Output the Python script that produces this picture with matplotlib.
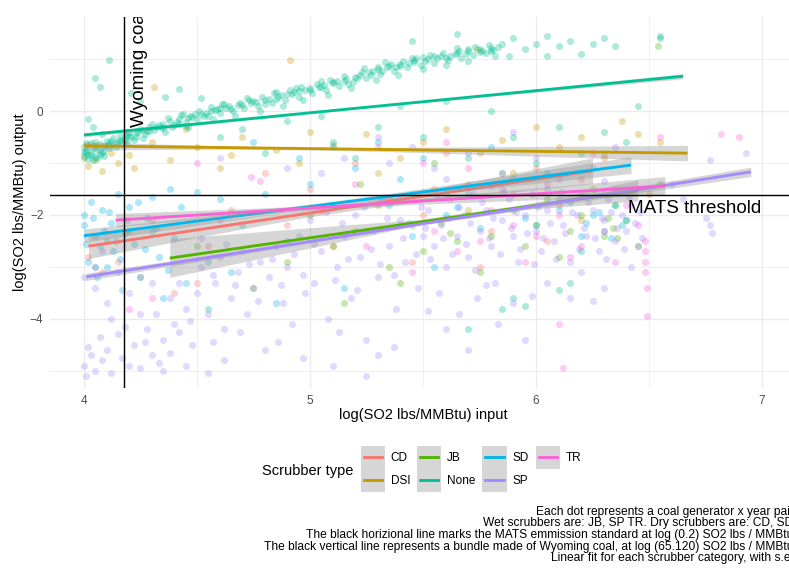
import numpy as np
import matplotlib
matplotlib.use("Agg")
import matplotlib.pyplot as plt
from matplotlib.patches import Rectangle
from matplotlib.lines import Line2D
from matplotlib.ticker import MultipleLocator

plt.rcParams['font.family'] = ['Liberation Sans', 'DejaVu Sans']

# ---------------- data ----------------
categories = ["CD", "DSI", "JB", "None", "SD", "SP", "TR"]
colors = ["#F8766D", "#C49A00", "#53B400", "#00C094", "#00B6EB", "#A58AFF", "#FB61D7"]

# scatter points (log input, log output)
none_pts = [
    (4.00, -0.70), (4.00, -0.86), (4.01, -0.78), (4.02, -0.92), (4.02, -0.66), (4.03, -0.80), (4.04, -0.72),
    (4.05, -0.88), (4.06, -0.74), (4.07, -0.64), (4.08, -0.80), (4.09, -0.68), (4.10, -0.58), (4.12, -0.66),
    (4.13, -0.52), (4.15, -0.60), (4.16, -0.48), (4.18, -0.55), (4.20, -0.40), (4.21, -0.50), (4.23, -0.42),
    (4.25, -0.34), (4.27, -0.44), (4.29, -0.30), (4.31, -0.36), (4.33, -0.26), (4.35, -0.32), (4.38, -0.20),
    (4.40, -0.27), (4.42, -0.16), (4.45, -0.22), (4.47, -0.10), (4.50, -0.16), (4.52, -0.05), (4.55, -0.10),
    (4.58, 0.02), (4.60, -0.04), (4.63, 0.06), (4.66, 0.01), (4.68, 0.12), (4.71, 0.06), (4.74, 0.15),
    (4.77, 0.10), (4.80, 0.22), (4.83, 0.16), (4.86, 0.28), (4.89, 0.22), (4.92, 0.33), (4.95, 0.27),
    (4.98, 0.40), (5.01, 0.34), (5.04, 0.46), (5.07, 0.41), (5.10, 0.54), (5.13, 0.48), (5.16, 0.62),
    (5.19, 0.56), (5.22, 0.70), (5.25, 0.64), (5.28, 0.78), (5.31, 0.72), (5.34, 0.84), (5.37, 0.78),
    (5.40, 0.90), (5.43, 0.84), (5.46, 0.95), (5.49, 0.88), (5.52, 1.00), (5.55, 0.93), (5.58, 1.05),
    (5.61, 0.98), (5.64, 1.10), (5.67, 1.03), (5.70, 1.15), (5.72, 1.08), (5.75, 1.20), (5.78, 1.12),
    (5.80, 1.22), (4.03, -0.62), (4.06, -0.90), (4.11, -0.72), (4.19, -0.62), (4.26, -0.52), (4.36, -0.40),
    (4.46, -0.30), (4.57, -0.16), (4.67, -0.10), (4.78, 0.00), (4.88, 0.10), (4.97, 0.22), (5.08, 0.30),
    (5.18, 0.44), (5.29, 0.60), (5.39, 0.70), (5.50, 0.80), (5.60, 0.88), (5.70, 0.96), (4.62, 0.14),
    (4.85, 0.36), (5.05, 0.58), (5.24, 0.82), (5.45, 1.02), (5.65, 1.22), (5.82, 1.06), (5.33, 0.95),
    (4.94, 0.45), (4.72, 0.25), (4.44, -0.06),
    (4.01, -0.74), (4.03, -0.84), (4.05, -0.68), (4.07, -0.76), (4.09, -0.86), (4.11, -0.62), (4.14, -0.70),
    (4.17, -0.58), (4.19, -0.46), (4.22, -0.56), (4.24, -0.40), (4.28, -0.38), (4.30, -0.24), (4.34, -0.30),
    (4.37, -0.14), (4.41, -0.22), (4.43, -0.08), (4.48, -0.12), (4.51, 0.00), (4.54, -0.04), (4.56, 0.08),
    (4.59, 0.04), (4.61, 0.14), (4.64, 0.10), (4.69, 0.16), (4.73, 0.22), (4.76, 0.18), (4.79, 0.28),
    (4.82, 0.24), (4.84, 0.34), (4.87, 0.30), (4.91, 0.40), (4.93, 0.36), (4.96, 0.46), (5.00, 0.44),
    (5.03, 0.52), (5.06, 0.50), (5.09, 0.60), (5.12, 0.58), (5.15, 0.68), (5.17, 0.52), (5.21, 0.64),
    (5.23, 0.76), (5.27, 0.70), (5.30, 0.84), (5.32, 0.78), (5.36, 0.90), (5.38, 0.84), (5.41, 0.96),
    (5.44, 0.92), (5.47, 1.02), (5.51, 0.96), (5.53, 1.08), (5.56, 1.02), (5.59, 1.12), (5.62, 1.06),
    (5.66, 1.16), (5.69, 1.10), (5.73, 1.24), (5.76, 1.16), (5.79, 1.28), (5.81, 1.18),
    (4.00, -0.78), (4.01, -0.62), (4.02, -0.84), (4.04, -0.95), (4.05, -0.60), (4.07, -0.84), (4.09, -0.76),
    (4.10, -0.66), (4.12, -0.58), (4.14, -0.62), (4.16, -0.56), (4.18, -0.48), (4.20, -0.48), (4.23, -0.50),
    (4.26, -0.36), (4.29, -0.38), (4.32, -0.30), (4.35, -0.24), (4.39, -0.30), (4.42, -0.24), (4.46, -0.14),
    (4.49, -0.06), (4.53, -0.10), (4.56, 0.00), (4.60, 0.06), (4.65, 0.04), (4.70, 0.12), (4.75, 0.20),
    (4.80, 0.14), (4.85, 0.24), (4.90, 0.32), (4.95, 0.38), (5.00, 0.40), (5.05, 0.46), (5.10, 0.56),
    (5.15, 0.58), (5.20, 0.66), (5.26, 0.76), (5.30, 0.80), (5.35, 0.86), (5.40, 0.86), (5.46, 0.98),
    (5.50, 1.04), (5.55, 1.06), (5.60, 1.02), (5.65, 1.12), (5.70, 1.20), (5.75, 1.14), (5.80, 1.16),
    (5.83, 1.24),
    (4.05, 0.63), (4.11, 0.98), (4.07, 0.47), (4.21, 0.35), (4.36, 0.28), (4.52, 0.26), (4.02, -0.15),
    (4.04, -0.30), (4.08, -0.45), (4.25, 0.20), (4.42, 0.42), (4.45, -0.28),
    (5.90, 1.40), (5.95, 1.20), (6.00, 1.30), (6.05, 1.45), (6.10, 1.25), (6.15, 1.35), (6.20, 1.10),
    (6.25, 1.30), (6.30, 1.40), (6.35, 1.25), (6.05, 1.05), (5.85, 1.30), (5.88, 1.05), (6.55, 1.45),
    (6.55, 1.40), (5.65, 1.48), (5.45, 1.35),
    (4.60, -0.50), (4.90, -0.20), (5.10, -0.60), (5.30, -0.30), (5.50, -0.50), (5.60, 0.20), (5.80, 0.00),
    (5.90, -0.50), (6.10, -0.30), (6.30, -0.40), (6.40, -0.60), (5.20, -0.90), (4.80, -0.80), (5.70, -0.90),
    (6.00, -1.00), (6.20, -0.80), (5.40, 0.10), (5.05, -0.10), (4.70, -0.35), (6.45, 0.10),
    (4.05, -3.00), (4.10, -2.50), (4.30, -2.30), (6.20, -2.70), (5.85, -3.80), (5.90, -3.60), (5.95, -3.75),
    (6.10, -3.45), (6.15, -3.30), (5.70, -4.20), (4.55, -3.80),
]
dsi_pts = [
    (4.00, -0.90), (4.02, -1.05), (4.05, -0.95), (4.08, -1.15), (4.12, -0.80), (4.15, -1.00), (4.20, -0.85),
    (4.22, -1.10), (4.30, -0.60), (4.38, -0.95), (4.50, -0.70), (4.60, -1.10), (4.70, -0.50), (4.91, 0.98),
    (4.31, 0.46), (5.74, 1.20), (5.00, -0.40), (5.10, -0.65), (5.25, -0.45), (5.40, -0.90), (5.50, -0.60),
    (5.60, -0.35), (5.75, -0.80), (5.85, -0.55), (6.00, -0.30), (6.10, -0.70), (6.20, -0.50), (6.30, -0.85),
    (6.45, -0.45), (6.55, -0.60), (4.85, -0.75), (4.95, -1.00), (5.30, -1.20), (6.38, -0.20), (5.55, -1.50),
    (6.50, -1.60), (4.45, -0.35), (4.18, -0.60), (4.65, -0.85), (5.90, -1.20), (6.20, -2.10), (5.70, -1.90),
]
sd_pts = [
    (4.00, -2.00), (4.00, -2.20), (4.02, -2.90), (4.03, -1.75), (4.05, -2.40), (4.07, -2.60), (4.08, -1.90),
    (4.10, -3.00), (4.12, -2.15), (4.13, -2.70), (4.15, -1.60), (4.17, -3.45), (4.18, -2.35), (4.20, -1.85),
    (4.22, -2.55), (4.25, -3.20), (4.28, -2.05), (4.30, -1.65), (4.33, -2.80), (4.35, -3.60), (4.38, -1.50),
    (4.40, -2.45), (4.45, -3.30), (4.50, -1.55), (4.55, -2.90), (4.60, -1.70), (4.65, -3.10), (4.70, -2.20),
    (4.80, -1.60), (4.90, -2.50), (5.00, -1.40), (5.10, -0.70), (5.20, -1.10), (5.30, -0.60), (5.40, -1.30),
    (5.50, -0.90), (5.60, -2.00), (5.70, -1.60), (5.80, -0.70), (5.90, -1.30), (6.00, -2.20), (6.10, -1.90),
    (6.20, -2.40), (6.25, -2.00), (6.30, -2.30), (6.35, -1.80), (6.40, -2.10), (5.35, -1.80), (5.45, -2.40),
    (4.95, -0.90), (4.75, -0.60), (5.55, -3.00), (5.25, -2.30), (6.05, -1.20), (5.15, -3.40), (4.85, -3.70),
    (4.01, -2.55), (4.04, -2.05), (4.06, -3.20), (4.09, -2.30), (4.11, -1.95), (4.14, -2.50), (4.16, -2.85),
    (4.19, -2.10), (4.24, -1.75), (4.27, -2.65), (4.32, -2.25), (4.37, -3.05), (4.43, -1.85), (6.22, -2.15),
    (6.28, -1.95), (6.33, -2.45), (6.38, -2.20), (6.15, -1.75), (5.95, -2.05), (5.65, -1.85), (5.75, -2.25),
]
cd_pts = [
    (4.02, -2.80), (4.08, -3.10), (4.15, -2.90), (4.25, -3.20), (4.30, -2.10), (4.50, -3.30), (4.55, -2.60),
    (4.65, -1.90), (4.80, -1.20), (4.90, -2.20), (5.00, -1.50), (5.10, -2.60), (5.20, -1.00), (5.35, -1.70),
    (5.50, -2.00), (5.60, -0.80), (5.70, -1.40), (5.80, -2.30), (5.90, -1.60), (6.00, -1.10), (6.10, -1.80),
    (6.20, -1.30), (6.30, -0.90), (6.35, -1.50), (4.40, -3.50), (5.45, -2.90), (5.75, -3.00), (6.05, -2.50),
]
tr_pts = [
    (4.74, -1.27), (4.78, -1.35), (5.20, -1.40), (5.30, -0.70), (5.50, -1.00), (5.60, -0.60), (5.70, -1.10),
    (5.80, -1.90), (5.90, -2.20), (6.00, -2.40), (6.10, -2.00), (6.20, -2.60), (6.30, -2.30), (6.40, -1.80),
    (6.48, -2.50), (6.48, -2.70), (6.48, -2.90), (6.48, -3.10), (6.49, -3.40), (6.49, -3.95), (6.45, -2.20),
    (6.35, -2.90), (6.15, -2.80), (5.95, -2.90), (5.75, -2.50), (5.55, -2.30), (5.65, -2.70), (5.45, -3.10),
    (5.25, -2.60), (5.05, -1.90), (4.50, -1.00), (4.20, -3.80), (4.30, -3.60), (4.60, -2.10), (6.25, -0.80),
    (6.55, -0.50), (6.10, -4.10), (5.85, -1.50), (6.05, -1.40), (6.12, -4.94), (6.82, -0.45), (6.90, -0.50),
]
jb_pts = [
    (5.00, -2.00), (5.10, -2.60), (5.20, -2.30), (5.30, -1.80), (5.35, -3.00), (5.45, -2.20), (5.50, -2.70),
    (5.60, -1.60), (5.65, -2.50), (5.70, -2.00), (5.75, -3.10), (5.80, -2.40), (5.90, -1.90), (5.95, -2.60),
    (6.00, -2.20), (6.05, -1.70), (6.10, -2.80), (6.15, -2.30), (6.20, -2.00), (6.25, -1.50), (6.30, -2.40),
    (6.35, -1.80), (6.40, -2.10), (6.45, -2.60), (5.85, -1.20), (5.55, -1.00), (5.22, -1.40), (4.90, -2.90),
    (4.75, -3.40), (5.40, -3.30), (6.55, -1.40), (5.15, -3.70), (4.50, -2.60), (4.20, -2.30), (6.54, 1.25),
    (6.32, -2.05), (6.34, -2.25), (6.36, -2.45), (5.58, -2.15), (5.62, -2.35),
]
sp_pts = [
    (4.00, -4.90), (4.01, -5.10), (4.03, -4.70), (4.05, -5.00), (4.08, -4.80), (4.10, -4.60), (4.12, -5.05),
    (4.15, -4.30), (4.17, -4.75), (4.20, -4.90), (4.22, -4.50), (4.25, -4.95), (4.28, -4.20), (4.30, -4.70),
    (4.32, -3.90), (4.35, -4.40), (4.38, -3.60), (4.40, -4.10), (4.42, -3.30), (4.45, -3.80), (4.48, -4.50),
    (4.50, -3.50), (4.52, -3.00), (4.55, -3.90), (4.58, -3.30), (4.60, -2.80), (4.62, -4.20), (4.65, -3.60),
    (4.68, -3.10), (4.70, -2.70), (4.72, -3.90), (4.75, -3.40), (4.78, -2.90), (4.80, -4.60), (4.82, -3.20),
    (4.85, -2.60), (4.88, -3.70), (4.90, -3.00), (4.92, -4.10), (4.95, -2.40), (4.98, -3.50), (4.05, -3.40),
    (4.10, -3.70), (4.15, -3.10), (4.20, -3.50), (4.25, -3.90), (4.30, -3.30), (4.12, -4.00), (4.35, -5.00),
    (4.45, -4.90), (4.55, -5.05), (4.62, -4.80), (4.00, -3.20), (4.05, -3.00), (4.08, -2.70),
    (5.00, -2.10), (5.02, -3.30), (5.05, -2.70), (5.08, -4.00), (5.10, -1.80), (5.12, -3.00), (5.15, -2.40),
    (5.18, -3.60), (5.20, -2.00), (5.22, -2.80), (5.25, -4.40), (5.28, -2.30), (5.30, -3.20), (5.32, -1.70),
    (5.35, -2.60), (5.38, -3.80), (5.40, -2.10), (5.42, -2.90), (5.45, -1.60), (5.48, -3.40), (5.50, -2.40),
    (5.10, -4.90), (5.25, -5.10), (5.30, -4.70), (5.05, -1.20), (5.15, -0.90), (5.35, -1.00), (5.45, -0.70),
    (5.52, -1.90), (5.55, -2.60), (5.58, -2.20), (5.60, -3.00), (5.62, -1.70), (5.65, -2.40), (5.68, -2.00),
    (5.70, -2.80), (5.72, -1.60), (5.75, -2.30), (5.78, -1.90), (5.80, -2.60), (5.82, -3.30), (5.85, -2.10),
    (5.88, -1.70), (5.90, -2.40), (5.92, -2.90), (5.95, -2.00), (5.98, -1.60), (6.00, -2.30), (6.02, -2.70),
    (6.05, -1.90), (6.08, -2.50), (6.10, -1.70), (6.12, -2.20), (6.15, -2.90), (6.18, -2.00), (6.20, -1.60),
    (6.22, -2.40), (6.25, -1.90), (6.28, -2.70), (6.30, -2.10), (6.32, -1.70), (6.35, -2.50), (6.38, -2.00),
    (6.40, -2.30), (6.42, -1.80), (6.45, -2.60), (5.57, -3.50), (5.66, -3.90), (5.74, -3.60), (5.83, -4.10),
    (5.90, -3.70), (6.05, -3.30), (6.20, -3.10), (6.30, -3.40), (6.42, -3.00), (5.95, -4.40), (5.60, -4.20),
    (5.70, -4.60), (6.15, -3.60),
    (5.55, -1.10), (5.70, -0.80), (5.85, -1.20), (6.00, -0.90), (6.10, -1.30), (6.25, -1.10), (6.35, -0.70),
    (5.30, -0.50), (5.90, -0.40), (4.90, -1.10), (4.60, -0.90),
    (6.75, -2.05), (6.77, -2.20), (6.78, -2.35), (6.93, -0.80), (6.77, -0.94), (6.60, -1.40), (6.65, -1.70),
    (5.51, -2.25), (5.53, -2.85), (5.56, -1.65), (5.59, -2.45), (5.61, -2.05), (5.63, -2.75), (5.66, -1.85),
    (5.69, -2.55), (5.71, -2.15), (5.73, -3.05), (5.76, -1.75), (5.79, -2.45), (5.81, -2.05), (5.84, -2.75),
    (5.86, -1.55), (5.89, -2.25), (5.91, -1.95), (5.93, -2.65), (5.96, -2.35), (5.99, -2.95), (6.01, -1.85),
    (6.03, -2.45), (6.06, -2.15), (6.09, -2.85), (6.11, -1.55), (6.13, -2.35), (6.16, -1.95), (6.19, -2.65),
    (6.21, -2.25), (6.23, -1.75), (6.26, -2.45), (6.29, -2.05), (6.31, -2.85), (6.33, -1.95), (6.36, -2.25),
    (6.39, -2.65), (6.41, -1.65), (6.44, -2.15), (6.46, -1.95), (6.47, -2.45),
    (5.02, -2.55), (5.07, -1.95), (5.11, -3.25), (5.14, -2.15), (5.17, -2.85), (5.21, -3.45), (5.24, -1.85),
    (5.27, -2.65), (5.31, -2.95), (5.34, -2.05), (5.37, -3.15), (5.41, -2.45), (5.44, -2.15), (5.47, -2.75),
    (5.49, -1.85),
    (4.52, -2.45), (4.57, -3.15), (4.63, -2.55), (4.67, -3.35), (4.73, -2.95), (4.77, -3.65), (4.83, -2.85),
    (4.87, -3.35), (4.93, -2.75), (4.97, -3.15), (4.42, -4.25), (4.38, -4.65), (4.27, -4.45), (4.18, -4.15),
    (4.07, -4.35), (4.02, -4.55), (4.33, -4.85), (4.47, -4.05), (4.57, -4.45), (4.69, -4.25), (4.86, -4.45),
    (4.97, -4.75), (5.13, -4.25), (5.37, -4.55), (5.52, -3.85), (5.78, -3.35), (5.98, -3.55), (6.25, -3.65),
    (5.60, -1.30), (5.80, -1.45), (6.05, -1.50), (6.30, -1.35),
]
points = {"CD": cd_pts, "DSI": dsi_pts, "JB": jb_pts, "None": none_pts,
          "SD": sd_pts, "SP": sp_pts, "TR": tr_pts}

# linear fits: start/end x and y of each fitted line
fit_x0 = [4.02, 4.00, 4.38, 4.00, 4.00, 4.01, 4.14]
fit_x1 = [6.25, 6.67, 6.45, 6.65, 6.42, 6.95, 6.57]
fit_y0 = [-2.60, -0.67, -2.83, -0.46, -2.40, -3.19, -2.10]
fit_y1 = [-1.15, -0.81, -1.53, 0.67, -1.04, -1.17, -1.44]
# standard-error band half widths at left end, middle, right end
se_left = [0.24, 0.08, 0.37, 0.04, 0.13, 0.07, 0.13]
se_mid = [0.07, 0.04, 0.07, 0.015, 0.05, 0.025, 0.05]
se_right = [0.25, 0.15, 0.20, 0.05, 0.16, 0.09, 0.18]

mats_threshold = np.log(0.2)
wyoming_coal = np.log(65.120)

x_ticks = [4, 5, 6, 7]
y_ticks = [-4, -2, 0]

caption_lines = [
    "Each dot represents a coal generator x year pair",
    "Wet scrubbers are: JB, SP TR. Dry scrubbers are: CD, SD",
    "The black horizional line marks the MATS emmission standard at log (0.2) SO2 lbs / MMBtu",
    "The black vertical line represents a bundle made of Wyoming coal, at log (65.120) SO2 lbs / MMBtu",
    "Linear fit for each scrubber category, with s.e.",
]


class SmoothKey:
    """Legend key like ggplot's geom_smooth key: grey box with a coloured line."""
    def __init__(self, color):
        self.color = color

    def legend_artist(self, legend, orig_handle, fontsize, handlebox):
        x0, y0 = -handlebox.xdescent, -handlebox.ydescent
        w, h = handlebox.width, handlebox.height
        rect = Rectangle((x0, y0), w, h, facecolor='#999999', alpha=0.4, lw=0,
                         transform=handlebox.get_transform())
        line = Line2D([x0 + 0.12 * w, x0 + 0.88 * w], [y0 + h / 2, y0 + h / 2],
                      color=self.color, lw=2.13, transform=handlebox.get_transform())
        handlebox.add_artist(rect)
        handlebox.add_artist(line)
        return line


# ---------------- figure ----------------
W, H = 789, 568
DPI = 96
fig = plt.figure(figsize=(W / DPI, H / DPI), dpi=DPI)
pl, pr, pt, pb = 50, 796, 17, 388
ax = fig.add_axes([pl / W, 1 - pb / H, (pr - pl) / W, (pb - pt) / H])
ax.set_xlim(3.85, 7.15)
ax.set_ylim(-5.33, 1.81)

for s in ax.spines.values():
    s.set_visible(False)
ax.set_xticks(x_ticks)
ax.set_yticks(y_ticks)
ax.xaxis.set_minor_locator(MultipleLocator(0.5))
ax.yaxis.set_minor_locator(MultipleLocator(1.0))
ax.grid(which='major', color='#EBEBEB', lw=1.05, zorder=0)
ax.grid(which='minor', color='#EBEBEB', lw=0.55, zorder=0)
ax.set_axisbelow(True)
ax.tick_params(which='both', length=0, pad=5, labelsize=8.8, labelcolor='#4D4D4D')

for cat, col in zip(categories, colors):
    arr = np.array(points[cat])
    ax.scatter(arr[:, 0], arr[:, 1], s=28, color=col, alpha=0.32, lw=0, zorder=2)

handles = []
handler_map = {}
for i, (cat, col) in enumerate(zip(categories, colors)):
    xs = np.linspace(fit_x0[i], fit_x1[i], 80)
    ys = fit_y0[i] + (fit_y1[i] - fit_y0[i]) * (xs - fit_x0[i]) / (fit_x1[i] - fit_x0[i])
    xm = (fit_x0[i] + fit_x1[i]) / 2
    c = np.polyfit([fit_x0[i], xm, fit_x1[i]],
                   [se_left[i] ** 2, se_mid[i] ** 2, se_right[i] ** 2], 2)
    hw = np.sqrt(np.clip(np.polyval(c, xs), se_mid[i] ** 2 * 0.5, None))
    ax.fill_between(xs, ys - hw, ys + hw, color='#999999', alpha=0.4, lw=0, zorder=3)
    ln, = ax.plot(xs, ys, color=col, lw=2.13, solid_capstyle='butt', zorder=3)
    handles.append(ln)
    handler_map[ln] = SmoothKey(col)

ax.axhline(mats_threshold, color='black', lw=1.07, zorder=4)
ax.axvline(wyoming_coal, color='black', lw=1.07, zorder=4)
ax.text(6.70, -1.96, "MATS threshold", fontsize=14.2, ha='center', va='baseline', zorder=5)
ax.text(4.267, -0.31, "Wyoming coal", fontsize=14.2, rotation=90, rotation_mode='anchor',
        ha='left', va='baseline', clip_on=True, zorder=5)

ax.set_xlabel("log(SO2 lbs/MMBtu) input", fontsize=11, labelpad=1)
ax.set_ylabel("log(SO2 lbs/MMBtu) output", fontsize=11, labelpad=2)

leg = fig.legend(handles, categories, handler_map=handler_map,
                 ncol=4, loc='upper left', bbox_to_anchor=(360.7 / W, 1 - 445.7 / H),
                 frameon=False, fontsize=8.8, handlelength=2.05, handleheight=2.645,
                 handletextpad=0.5, labelspacing=0.0, columnspacing=0.6,
                 borderpad=0, borderaxespad=0)
fig.text(262 / W, 1 - 470.7 / H, "Scrubber type", fontsize=11, ha='left', va='center')

for k, line in enumerate(caption_lines):
    fig.text(793.5 / W, 1 - (514.5 + 11.75 * k) / H, line, fontsize=9.0,
             ha='right', va='baseline')

fig.savefig("out.png", dpi=DPI)
